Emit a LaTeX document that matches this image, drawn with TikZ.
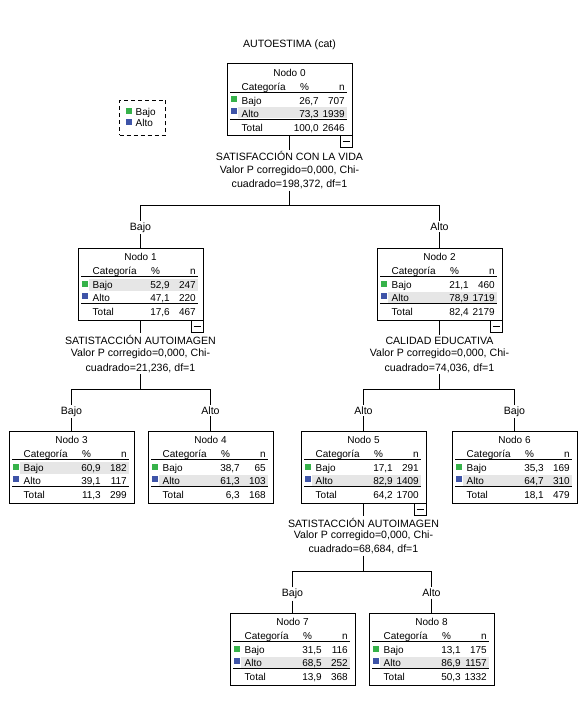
\documentclass[tikz,border=0pt]{standalone}
\usepackage{fontspec}
\setmainfont{Liberation Sans}
\definecolor{catgreen}{RGB}{54,178,74}
\definecolor{catblue}{RGB}{62,84,168}
\definecolor{bandgray}{RGB}{230,230,230}
\tikzset{
  box/.style={draw=black, line width=1pt, minimum width=125pt, minimum height=72pt, inner sep=0pt, outer sep=0pt},
  tx/.style={font=\fontsize{10}{12}\selectfont, inner sep=0pt},
  lab/.style={font=\fontsize{10.6}{12.5}\selectfont, inner sep=1.5pt},
  conn/.style={line width=1pt},
  tabrule/.style={line width=1.2pt},
  minusbox/.style={draw=black, line width=1pt, minimum size=12pt, inner sep=0pt, outer sep=0pt},
}
% #1 name, #2 position, #3 node number, #4 highlighted row (1 Bajo, 2 Alto),
% #5 Bajo %, #6 Bajo n, #7 Alto %, #8 Alto n, #9 Total %, then {Total n}
\newcommand\treebox[9]{%
  \begin{scope}[shift={#2}]
    \ifnum#4=1\relax
      \fill[bandgray] (11,31) rectangle (120,42.5);
    \else
      \fill[bandgray] (11,43.5) rectangle (120,54.5);
    \fi
    \node[box, anchor=north west] (#1) at (0,0) {};
    \node[tx, anchor=base] (#1-t) at (62.5,12.1) {Nodo #3};
    \node[tx, anchor=base west] (#1-hc) at (14.5,26.1) {Categoría};
    \node[tx, anchor=base] (#1-hp) at (77.5,26.1) {\%};
    \node[tx, anchor=base east] (#1-hn) at (118,26.1) {n};
    \draw[tabrule] (3,28.5) -- (120,28.5);
    \fill[catgreen] (3.5,32.5) rectangle (9.5,38.5);
    \fill[catblue] (3.5,44.5) rectangle (9.5,50.5);
    \node[tx, anchor=base west] (#1-bc) at (14.5,40.6) {Bajo};
    \node[tx, anchor=base east] (#1-bp) at (92,40.6) {#5};
    \node[tx, anchor=base east] (#1-bn) at (118,40.6) {#6};
    \node[tx, anchor=base west] (#1-ac) at (14.5,53.1) {Alto};
    \node[tx, anchor=base east] (#1-ap) at (92,53.1) {#7};
    \node[tx, anchor=base east] (#1-an) at (118,53.1) {#8};
    \draw[tabrule] (3,55.2) -- (120,55.2);
    \node[tx, anchor=base west] (#1-tc) at (14.5,67.6) {Total};
    \node[tx, anchor=base east] (#1-tp) at (92,67.6) {#9};
  \treeboxend{#1}}
\newcommand\treeboxend[2]{%
    \node[tx, anchor=base east] (#1-tn) at (118,67.6) {#2};
  \end{scope}}
\newcommand\collapse[1]{%
  \node[minusbox, anchor=north east] (#1-m) at (#1.south east) {};
  \draw[line width=1pt] ([xshift=2.5pt]#1-m.west) -- ([xshift=-2.5pt]#1-m.east);}

\begin{document}
\begin{tikzpicture}[x=1pt, y=-1pt]
\fill[white] (0,0) rectangle (585,722);
\useasboundingbox (0,0) rectangle (585,722);

% title
\node[lab, anchor=base] (title) at (289.5,47.8) {AUTOESTIMA (cat)};

% legend
\node[draw=black, line width=1pt, dash pattern=on 4pt off 3pt, minimum width=46pt, minimum height=35pt, inner sep=0pt, anchor=north west] (legend) at (119,100) {};
\fill[catgreen] (126,108) rectangle (132,114);
\fill[catblue] (126,119.5) rectangle (132,125.5);
\node[tx, anchor=base west] (legb) at (135.5,115.4) {Bajo};
\node[tx, anchor=base west] (lega) at (135.5,126.8) {Alto};

% nodes
\treebox{n0}{(227,64)}{0}{2}{26,7}{707}{73,3}{1939}{100,0}{2646}
\treebox{n1}{(78,248)}{1}{1}{52,9}{247}{47,1}{220}{17,6}{467}
\treebox{n2}{(377,248)}{2}{2}{21,1}{460}{78,9}{1719}{82,4}{2179}
\treebox{n3}{(9,431)}{3}{1}{60,9}{182}{39,1}{117}{11,3}{299}
\treebox{n4}{(148,431)}{4}{2}{38,7}{65}{61,3}{103}{6,3}{168}
\treebox{n5}{(301,431)}{5}{2}{17,1}{291}{82,9}{1409}{64,2}{1700}
\treebox{n6}{(452,431)}{6}{2}{35,3}{169}{64,7}{310}{18,1}{479}
\treebox{n7}{(230,613)}{7}{2}{31,5}{116}{68,5}{252}{13,9}{368}
\treebox{n8}{(369,613)}{8}{2}{13,1}{175}{86,9}{1157}{50,3}{1332}

\collapse{n0}
\collapse{n1}
\collapse{n2}
\collapse{n5}

% split labels
\node[lab, anchor=base] (q0a) at (289.5,160.7) {SATISFACCIÓN CON LA VIDA};
\node[lab, anchor=base] (q0b) at (289.5,173.2) {Valor P corregido=0,000, Chi-};
\node[lab, anchor=base] (q0c) at (289.5,187.6) {cuadrado=198,372, df=1};

\node[lab, anchor=base] (q1a) at (140.5,344.3) {SATISTACCIÓN AUTOIMAGEN};
\node[lab, anchor=base] (q1b) at (140.5,356.3) {Valor P corregido=0,000, Chi-};
\node[lab, anchor=base] (q1c) at (140.5,371) {cuadrado=21,236, df=1};

\node[lab, anchor=base] (q2a) at (439.5,344.3) {CALIDAD EDUCATIVA};
\node[lab, anchor=base] (q2b) at (439.5,356.3) {Valor P corregido=0,000, Chi-};
\node[lab, anchor=base] (q2c) at (439.5,371) {cuadrado=74,036, df=1};

\node[lab, anchor=base] (q5a) at (363.5,527) {SATISTACCIÓN AUTOIMAGEN};
\node[lab, anchor=base] (q5b) at (363.5,538.5) {Valor P corregido=0,000, Chi-};
\node[lab, anchor=base] (q5c) at (363.5,552.5) {cuadrado=68,684, df=1};

% junction coordinates
\coordinate (j0) at (289.5,205);
\coordinate (j0l) at (140.5,205);
\coordinate (j0r) at (439.5,205);
\coordinate (j1) at (140.5,389);
\coordinate (j1l) at (71.5,389);
\coordinate (j1r) at (210.5,389);
\coordinate (j2) at (439.5,389);
\coordinate (j2l) at (363.5,389);
\coordinate (j2r) at (514.5,389);
\coordinate (j5) at (363.5,571.5);
\coordinate (j5l) at (292.5,571.5);
\coordinate (j5r) at (431.5,571.5);

% branch labels
\node[lab, anchor=base] (b1) at (140.5,230.3) {Bajo};
\node[lab, anchor=base] (b2) at (439.5,230.3) {Alto};
\node[lab, anchor=base] (b3) at (71.5,414.3) {Bajo};
\node[lab, anchor=base] (b4) at (210.5,414.3) {Alto};
\node[lab, anchor=base] (b5) at (363.5,414.3) {Alto};
\node[lab, anchor=base] (b6) at (514.5,414.3) {Bajo};
\node[lab, anchor=base] (b7) at (292.5,596.8) {Bajo};
\node[lab, anchor=base] (b8) at (431.5,596.8) {Alto};

% connectors
\draw[conn] (n0.south) -- (q0a.north);
\draw[conn] (q0c.south) -- (j0);
\draw[conn] (b1.north) -- (j0l) -- (j0r) -- (b2.north);
\draw[conn] (b1.south) -- (n1.north);
\draw[conn] (b2.south) -- (n2.north);

\draw[conn] (n1.south) -- (q1a.north);
\draw[conn] (q1c.south) -- (j1);
\draw[conn] (b3.north) -- (j1l) -- (j1r) -- (b4.north);
\draw[conn] (b3.south) -- (n3.north);
\draw[conn] (b4.south) -- (n4.north);

\draw[conn] (n2.south) -- (q2a.north);
\draw[conn] (q2c.south) -- (j2);
\draw[conn] (b5.north) -- (j2l) -- (j2r) -- (b6.north);
\draw[conn] (b5.south) -- (n5.north);
\draw[conn] (b6.south) -- (n6.north);

\draw[conn] (n5.south) -- (q5a.north);
\draw[conn] (q5c.south) -- (j5);
\draw[conn] (b7.north) -- (j5l) -- (j5r) -- (b8.north);
\draw[conn] (b7.south) -- (n7.north);
\draw[conn] (b8.south) -- (n8.north);
\end{tikzpicture}
\end{document}
